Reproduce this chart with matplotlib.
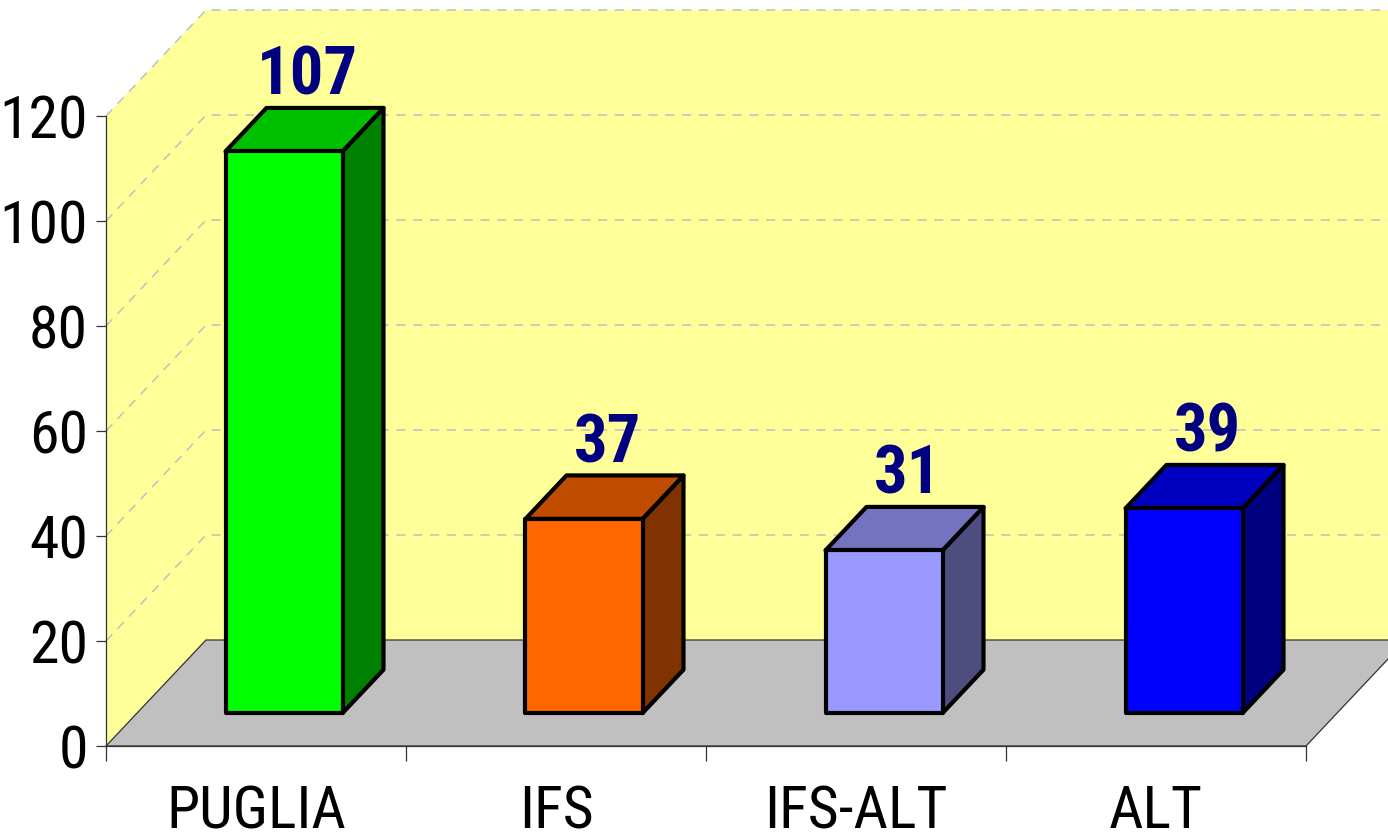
import matplotlib
matplotlib.use("Agg")
import matplotlib.pyplot as plt
from matplotlib.patches import Polygon
from matplotlib import font_manager

categories = ["PUGLIA", "IFS", "IFS-ALT", "ALT"]
values = [107, 37, 31, 39]
y_ticks = [0, 20, 40, 60, 80, 100, 120]

front_colors = ["#00FF00", "#FF6600", "#9999FF", "#0000FF"]
top_colors = ["#00C000", "#C04C00", "#7373BF", "#0000C0"]
side_colors = ["#008000", "#803300", "#4D4D80", "#000080"]

avail = {f.name for f in font_manager.fontManager.ttflist}
fam = [f for f in ["Liberation Sans Narrow", "Roboto Condensed", "Liberation Sans", "DejaVu Sans"] if f in avail]
plt.rcParams["font.family"] = fam

W, H = 1388, 840
fig = plt.figure(figsize=(W / 100, H / 100), dpi=100, facecolor="white")
ax = fig.add_axes([106 / W, 94 / H, 1200 / W, 630 / H])
ax.set_xlim(0, len(categories))
ax.set_ylim(0, 120)
ax.set_facecolor("none")

DX = 100 / 300.0          # depth shift in category units
DV = 106 / 5.25           # depth shift in value units


def P(x, v, d):
    return (x + d * DX, v + d * DV)


n = len(categories)
vmax = y_ticks[-1]
# side wall
ax.add_patch(Polygon([P(0, 0, 0), P(0, vmax, 0), P(0, vmax, 1), P(0, 0, 1)],
                     closed=True, facecolor="#FFFF99", edgecolor="none", zorder=0, clip_on=False))
# back wall
ax.add_patch(Polygon([P(0, 0, 1), P(0, vmax, 1), P(n, vmax, 1), P(n, 0, 1)],
                     closed=True, facecolor="#FFFF99", edgecolor="none", zorder=0, clip_on=False))
# gridlines
for v in y_ticks[1:]:
    pts = [P(0, v, 0), P(0, v, 1), P(n + 0.5, v, 1)]
    ax.plot([p[0] for p in pts], [p[1] for p in pts], color="#C0C0C0", lw=1.1,
            ls=(0, (6, 5)), zorder=1, clip_on=False)
# floor
ax.add_patch(Polygon([P(0, 0, 0), P(n, 0, 0), P(n, 0, 1), P(0, 0, 1)],
                     closed=True, facecolor="#C0C0C0", edgecolor="#333333", lw=0.9,
                     zorder=2, clip_on=False))

# bars
bw = 0.39
d0, d1 = 0.31, 0.72
for i, (v, fc, tc, sc) in enumerate(zip(values, front_colors, top_colors, side_colors)):
    x0 = i + 0.49 - bw / 2
    x1 = i + 0.49 + bw / 2
    kw = dict(closed=True, edgecolor="black", lw=3.0, joinstyle="round", zorder=5, clip_on=False)
    ax.add_patch(Polygon([P(x1, 0, d0), P(x1, v, d0), P(x1, v, d1), P(x1, 0, d1)], facecolor=sc, **kw))
    ax.add_patch(Polygon([P(x0, v, d0), P(x1, v, d0), P(x1, v, d1), P(x0, v, d1)], facecolor=tc, **kw))
    ax.add_patch(Polygon([P(x0, 0, d0), P(x1, 0, d0), P(x1, v, d0), P(x0, v, d0)], facecolor=fc, **kw))
    lx, ly = P(i + 0.5, v, (d0 + d1) / 2)
    ax.annotate(str(v), (lx, ly), xytext=(0, 15), textcoords="offset points",
                ha="center", va="bottom", fontsize=48, fontweight="bold", color="#000080",
                zorder=6, annotation_clip=False)

# axes styling
for s in ["top", "right"]:
    ax.spines[s].set_visible(False)
for s in ["left", "bottom"]:
    ax.spines[s].set_color("#333333")
    ax.spines[s].set_linewidth(0.9)
    ax.spines[s].set_zorder(3)

ax.set_yticks(y_ticks)
ax.set_yticklabels([str(t) for t in y_ticks], fontsize=43)
ax.tick_params(axis="y", length=7, width=0.9, color="#333333", pad=6)

ax.set_xticks(range(n + 1))
ax.set_xticklabels([""] * (n + 1))
ax.tick_params(axis="x", which="major", length=11, width=0.9, color="#333333", direction="out")
ax.set_xticks([i + 0.5 for i in range(n)], minor=True)
ax.set_xticklabels(categories, minor=True, fontsize=43)
ax.tick_params(axis="x", which="minor", length=0, pad=27)

fig.savefig("out.png", dpi=100, facecolor="white")
